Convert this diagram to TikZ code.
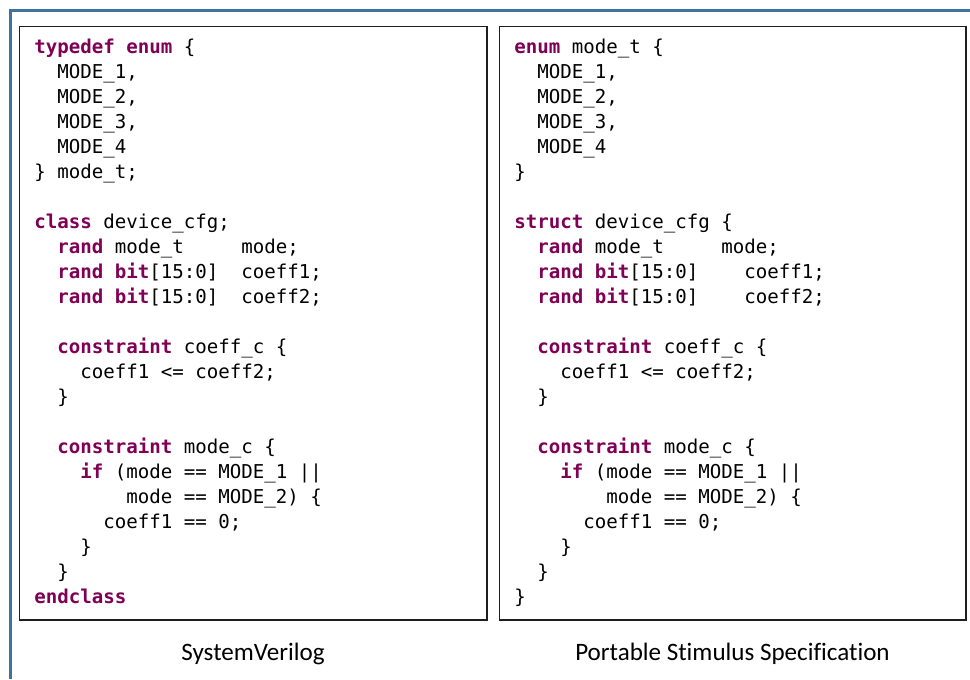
\documentclass[tikz,border=0pt]{standalone}
\usepackage{fontspec}
\setmainfont[Ligatures=NoCommon]{Carlito}
\newfontfamily\codefamily{DejaVu Sans Mono}
\definecolor{kwcolor}{HTML}{7F0055}
\definecolor{framecolor}{HTML}{41719C}
\definecolor{boxcolor}{HTML}{1E1E1E}
\newcommand\codefont{\codefamily\fontsize{14.33pt}{18.75pt}\selectfont\frenchspacing}
\newcommand\kw[1]{\textcolor{kwcolor}{\bfseries #1}}
\tikzset{
  code/.style={anchor=base west, inner sep=0pt, font=\codefont},
  caption/.style={anchor=base, inner sep=0pt, font=\fontsize{18.8pt}{22pt}\selectfont},
  panel/.style={draw=boxcolor, line width=1pt},
  frame/.style={draw=framecolor, line width=2.25pt}
}
\begin{document}
\begin{tikzpicture}[x=0.75pt, y=-0.75pt]
\useasboundingbox (0,0) rectangle (970,679);
\draw[frame] (10.5,679) -- (10.5,10.5) -- (970,10.5);
\draw[panel] (19.5,26.5) rectangle (487,620);
\draw[panel] (499.5,26.5) rectangle (966,620);

% SystemVerilog
\node[code] (sv0)  at (34,53.5)  {\kw{typedef} \kw{enum} \{};
\node[code] (sv1)  at (57,78.5)  {MODE\_1,};
\node[code] (sv2)  at (57,103.5) {MODE\_2,};
\node[code] (sv3)  at (57,128.5) {MODE\_3,};
\node[code] (sv4)  at (57,153.5) {MODE\_4};
\node[code] (sv5)  at (34,178.5) {\} mode\_t;};
\node[code] (sv7)  at (34,228.5) {\kw{class} device\_cfg;};
\node[code] (sv8)  at (57,253.5) {\kw{rand} mode\_t~~~~~mode;};
\node[code] (sv9)  at (57,278.5) {\kw{rand} \kw{bit}[15:0]~~coeff1;};
\node[code] (sv10) at (57,303.5) {\kw{rand} \kw{bit}[15:0]~~coeff2;};
\node[code] (sv12) at (57,353.5) {\kw{constraint} coeff\_c \{};
\node[code] (sv13) at (80,378.5) {coeff1 <= coeff2;};
\node[code] (sv14) at (57,403.5) {\}};
\node[code] (sv16) at (57,453.5) {\kw{constraint} mode\_c \{};
\node[code] (sv17) at (80,478.5) {\kw{if} (mode == MODE\_1 ||};
\node[code] (sv18) at (126,503.5) {mode == MODE\_2) \{};
\node[code] (sv19) at (103,528.5) {coeff1 == 0;};
\node[code] (sv20) at (80,553.5) {\}};
\node[code] (sv21) at (57,578.5) {\}};
\node[code] (sv22) at (34,603.5) {\kw{endclass}};

% Portable Stimulus
\node[code] (pss0)  at (514,53.5)  {\kw{enum} mode\_t \{};
\node[code] (pss1)  at (537,78.5)  {MODE\_1,};
\node[code] (pss2)  at (537,103.5) {MODE\_2,};
\node[code] (pss3)  at (537,128.5) {MODE\_3,};
\node[code] (pss4)  at (537,153.5) {MODE\_4};
\node[code] (pss5)  at (514,178.5) {\}};
\node[code] (pss7)  at (514,228.5) {\kw{struct} device\_cfg \{};
\node[code] (pss8)  at (537,253.5) {\kw{rand} mode\_t~~~~~mode;};
\node[code] (pss9)  at (537,278.5) {\kw{rand} \kw{bit}[15:0]~~~~coeff1;};
\node[code] (pss10) at (537,303.5) {\kw{rand} \kw{bit}[15:0]~~~~coeff2;};
\node[code] (pss12) at (537,353.5) {\kw{constraint} coeff\_c \{};
\node[code] (pss13) at (560,378.5) {coeff1 <= coeff2;};
\node[code] (pss14) at (537,403.5) {\}};
\node[code] (pss16) at (537,453.5) {\kw{constraint} mode\_c \{};
\node[code] (pss17) at (560,478.5) {\kw{if} (mode == MODE\_1 ||};
\node[code] (pss18) at (606,503.5) {mode == MODE\_2) \{};
\node[code] (pss19) at (583,528.5) {coeff1 == 0;};
\node[code] (pss20) at (560,553.5) {\}};
\node[code] (pss21) at (537,578.5) {\}};
\node[code] (pss22) at (514,603.5) {\}};

\node[caption] (svcap)  at (253,660)   {SystemVerilog};
\node[caption] (psscap) at (732.5,660) {Portable Stimulus Specification};
\end{tikzpicture}
\end{document}
